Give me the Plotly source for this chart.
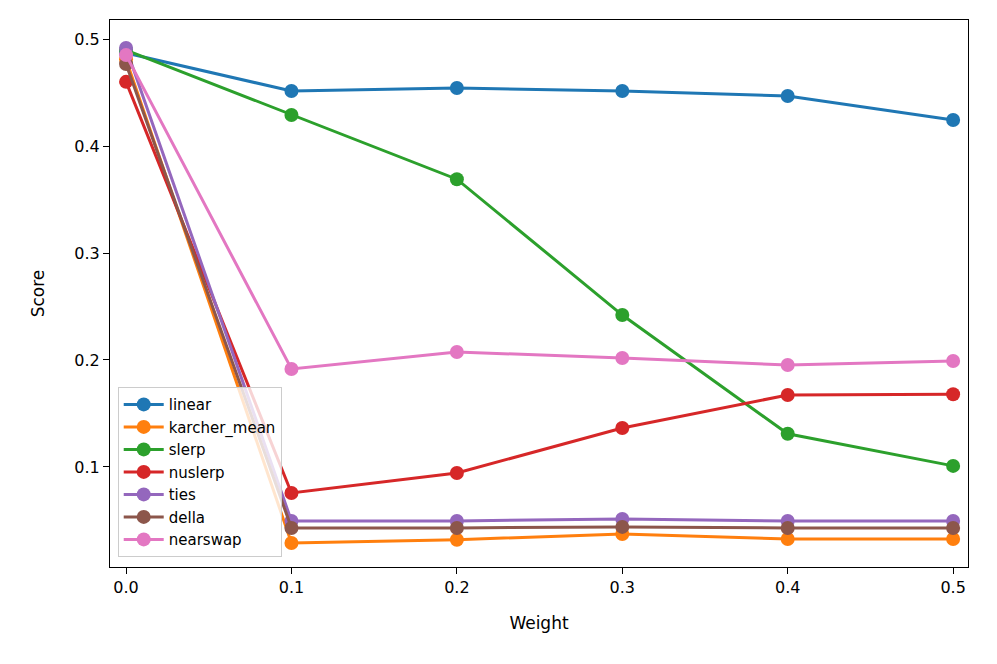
import plotly.graph_objects as go

weights = [0.0, 0.1, 0.2, 0.3, 0.4, 0.5]
linear = [0.487, 0.4514, 0.4542, 0.4514, 0.4467, 0.4243]
karcher_mean = [0.481, 0.029, 0.032, 0.0374, 0.0327, 0.0327]
slerp = [0.4897, 0.429, 0.369, 0.242, 0.131, 0.101]
nuslerp = [0.460, 0.0757, 0.0944, 0.1364, 0.1673, 0.168]
ties = [0.4916, 0.0495, 0.0495, 0.0514, 0.0495, 0.0495]
della = [0.4766, 0.043, 0.043, 0.044, 0.043, 0.043]
nearswap = [0.485, 0.1916, 0.2075, 0.2019, 0.1953, 0.199]

series = [
    ("linear", linear, "#1f77b4"),
    ("karcher_mean", karcher_mean, "#ff7f0e"),
    ("slerp", slerp, "#2ca02c"),
    ("nuslerp", nuslerp, "#d62728"),
    ("ties", ties, "#9467bd"),
    ("della", della, "#8c564b"),
    ("nearswap", nearswap, "#e377c2"),
]

fig = go.Figure()
for name, vals, col in series:
    fig.add_trace(go.Scatter(x=weights, y=vals, name=name, mode="lines+markers",
                             line=dict(color=col, width=3),
                             marker=dict(color=col, size=14)))

axis_common = dict(showgrid=False, zeroline=False, showline=True, linecolor="black",
                   linewidth=1.2, mirror=True, ticks="outside", ticklen=6, tickwidth=1.2,
                   tickcolor="black", tickfont=dict(size=16, color="black"))
fig.update_layout(
    width=989, height=656,
    margin=dict(l=102, r=29, t=12, b=97),
    paper_bgcolor="white", plot_bgcolor="white",
    font=dict(family="DejaVu Sans", color="black"),
    xaxis=dict(range=[-0.0097, 0.509], tickvals=weights,
               ticktext=["0.0", "0.1", "0.2", "0.3", "0.4", "0.5"],
               title=dict(text="Weight", font=dict(size=17), standoff=20), **axis_common),
    yaxis=dict(range=[0.0065, 0.5178], tickvals=[0.1, 0.2, 0.3, 0.4, 0.5],
               ticktext=["0.1", "0.2", "0.3", "0.4", "0.5"],
               title=dict(text="Score", font=dict(size=17), standoff=25), **axis_common),
    legend=dict(x=0.009, y=0.018, xanchor="left", yanchor="bottom",
                bgcolor="rgba(255,255,255,0.8)", bordercolor="#cccccc", borderwidth=1,
                font=dict(size=15), itemwidth=40, tracegroupgap=0),
    showlegend=True,
)
fig.write_html("out.html")
